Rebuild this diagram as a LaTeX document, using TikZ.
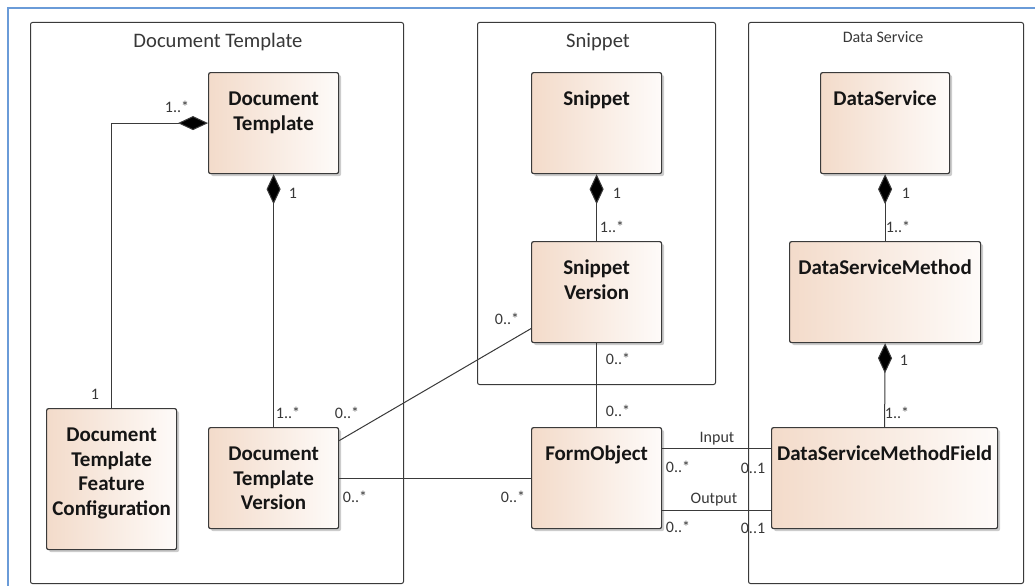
\documentclass[tikz,border=0pt]{standalone}
\usepackage{fontspec}
\setmainfont{Carlito}
\usetikzlibrary{arrows.meta,shadows}
\definecolor{frameblue}{HTML}{6A9BD8}
\definecolor{boxleft}{HTML}{F3DBCA}
\definecolor{boxright}{HTML}{FEFBF9}
\definecolor{edge}{HTML}{3A3A3A}
\definecolor{ink}{HTML}{151515}
\definecolor{labelink}{HTML}{383838}

\begin{document}
\begin{tikzpicture}[x=1pt,y=-1pt,
  pkg/.style={draw=edge, line width=1pt, rounded corners=2pt, anchor=north west, inner sep=0},
  pkgtitle/.style={font=\fontsize{20.6}{24}\selectfont, text=labelink, inner sep=0},
  cls/.style={draw=edge, line width=1.2pt, rounded corners=2pt,
    left color=boxleft, right color=boxright,
    anchor=north west, inner sep=0, align=center, text height=33pt,
    font=\bfseries\fontsize{21}{24.5}\selectfont, text=ink,
    drop shadow={shadow xshift=2.5pt, shadow yshift=-2.5pt, opacity=0.2, fill=black}},
  link/.style={draw=edge, line width=1pt},
  compo/.style={link, -{Diamond[length=30pt,width=14pt,fill=black]}},
  mult/.style={font=\fontsize{16}{19}\selectfont, text=labelink, inner sep=0}]

\useasboundingbox (0,0) rectangle (1035,586);
\fill[white] (0,0) rectangle (1035,586);

% window frame
\draw[frameblue, line width=2pt] (1035,8) -- (8,8) -- (8,586);

% packages
\node[pkg, minimum width=373pt, minimum height=561pt] (pkgdt) at (30,22) {};
\node[pkgtitle] (pkgdttitle) at (218,42) {Document Template};
\node[pkg, minimum width=238pt, minimum height=362pt] (pkgsn) at (477,22) {};
\node[pkgtitle] (pkgsntitle) at (598,42) {Snippet};
\node[pkg, minimum width=275pt, minimum height=561pt] (pkgds) at (748,22) {};
\node[pkgtitle, font=\fontsize{16}{19}\selectfont] (pkgdstitle) at (883,37) {Data Service};

% classes
\node[cls, text width=130pt, text depth=68pt] (dt) at (208,72) {Document\\Template};
\node[cls, text width=130pt, text depth=108pt] (dtfc) at (46,408) {Document\\Template\\Feature\\Configuration};
\node[cls, text width=130pt, text depth=68pt] (dtv) at (208,427) {Document\\Template\\Version};
\node[cls, text width=130pt, text depth=68pt] (snip) at (531,72) {Snippet};
\node[cls, text width=130pt, text depth=68pt] (sv) at (531,241) {Snippet\\Version};
\node[cls, text width=130pt, text depth=68pt] (fo) at (531,427) {FormObject};
\node[cls, text width=129pt, text depth=68pt] (ds) at (820,72) {DataService};
\node[cls, text width=191pt, text depth=68pt] (dsm) at (789,241) {DataServiceMethod};
\node[cls, text width=226pt, text depth=68pt] (dsmf) at (771,427) {DataServiceMethodField};

% compositions
\draw[compo] (dtfc.north) |- (dt.west);
\draw[compo] (dtv.north) -- (dt.south);
\draw[compo] (sv.north) -- (snip.south);
\draw[compo] (dsm.north) -- (ds.south);
\draw[compo] (dsmf.north) -- (dsm.south);

% associations
\draw[link] ([yshift=37.5pt]dtv.east) -- ([yshift=-36.5pt]sv.west);
\draw[link] (dtv.east) -- (fo.west);
\draw[link] (sv.south) -- (fo.north);
\draw[link] ([yshift=29.5pt]fo.east) -- ([yshift=29.5pt]dsmf.west);
\draw[link] ([yshift=-32.5pt]fo.east) -- ([yshift=-32.5pt]dsmf.west);

% multiplicities and roles
\node[mult] (m1) at (177,107) {1..*};
\node[mult] (m2) at (293,193) {1};
\node[mult] (m3) at (95,394) {1};
\node[mult] (m4) at (288,413) {1..*};
\node[mult] (m5) at (347,413) {0..*};
\node[mult] (m6) at (355,497) {0..*};
\node[mult] (m7) at (513,497) {0..*};
\node[mult] (m8) at (507,319) {0..*};
\node[mult] (m9) at (617,193) {1};
\node[mult] (m10) at (612,227) {1..*};
\node[mult] (m11) at (618,359) {0..*};
\node[mult] (m12) at (618,411) {0..*};
\node[mult] (m13) at (906,193) {1};
\node[mult] (m14) at (898,227) {1..*};
\node[mult] (m15) at (904,360) {1};
\node[mult] (m16) at (897,413) {1..*};
\node[mult] (rin) at (717,439) {Input};
\node[mult] (m17) at (678,467) {0..*};
\node[mult] (m18) at (753,468) {0..1};
\node[mult] (rout) at (714,500) {Output};
\node[mult] (m19) at (678,527) {0..*};
\node[mult] (m20) at (753,528) {0..1};
\end{tikzpicture}
\end{document}
